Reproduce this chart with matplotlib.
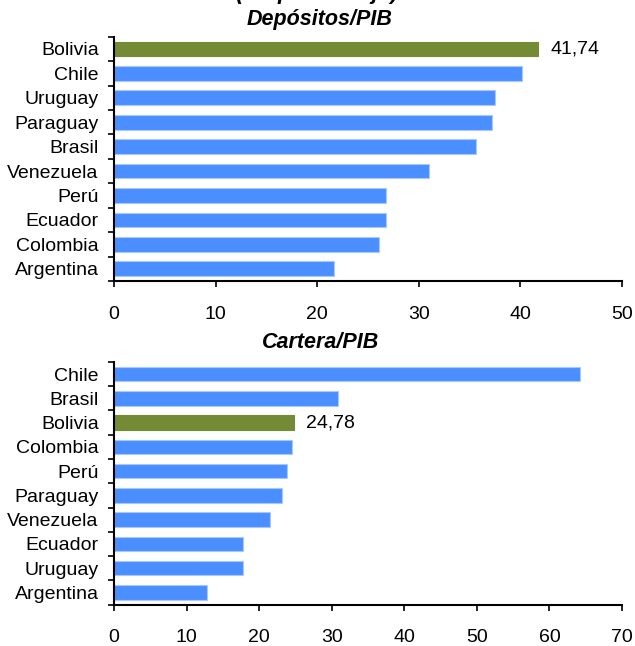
import matplotlib
matplotlib.use("Agg")
import matplotlib.pyplot as plt
import numpy as np

plt.rcParams['font.family'] = ['Liberation Sans', 'DejaVu Sans']

dep_countries = ["Bolivia", "Chile", "Uruguay", "Paraguay", "Brasil", "Venezuela",
                 "Perú", "Ecuador", "Colombia", "Argentina"]
dep_values = [41.74, 40.2, 37.5, 37.2, 35.6, 31.0, 26.8, 26.8, 26.1, 21.7]

car_countries = ["Chile", "Brasil", "Bolivia", "Colombia", "Perú", "Paraguay",
                 "Venezuela", "Ecuador", "Uruguay", "Argentina"]
car_values = [64.2, 30.9, 24.78, 24.5, 23.9, 23.1, 21.5, 17.8, 17.8, 12.8]

dep_ticks = [0, 10, 20, 30, 40, 50]
car_ticks = [0, 10, 20, 30, 40, 50, 60, 70]

highlight = "Bolivia"
BLUE = "#4A8EFF"
GREEN = "#758A35"

W, H = 635, 646
fig = plt.figure(figsize=(W / 100, H / 100), dpi=100)

def fx(px):
    return px / W

def fy(py):
    return 1 - py / H

def draw(ax, countries, values, ticks):
    y = np.arange(len(countries))
    colors = [GREEN if c == highlight else BLUE for c in countries]
    edges = ["#A9C8FF" if c != highlight else GREEN for c in countries]
    ax.barh(y, values, height=0.6, color=colors, edgecolor=edges, linewidth=0.8)
    ax.set_ylim(len(countries) - 0.5, -0.5)
    ax.set_xlim(ticks[0], ticks[-1])
    ax.set_xticks(ticks)
    ax.set_yticks(y)
    ax.set_yticklabels(countries, fontsize=14)
    ax.set_yticks(np.arange(-0.5, len(countries), 1.0), minor=True)
    ax.tick_params(axis='y', which='major', length=0, pad=11)
    ax.tick_params(axis='y', which='minor', length=4, width=1.2, direction='out')
    ax.tick_params(axis='x', which='major', length=4, width=1.2, direction='out',
                   pad=14, labelsize=14)
    for s in ['top', 'right']:
        ax.spines[s].set_visible(False)
    for s in ['left', 'bottom']:
        ax.spines[s].set_linewidth(1.5)
    for i, (c, v) in enumerate(zip(countries, values)):
        if c == highlight:
            ax.annotate(f"{v:.2f}".replace('.', ','), xy=(v, i), xytext=(9, 0),
                        textcoords='offset points', va='center', ha='left', fontsize=14)

ax1 = fig.add_axes([fx(114), fy(281), fx(622 - 114), (281 - 36.7) / H])
draw(ax1, dep_countries, dep_values, dep_ticks)

ax2 = fig.add_axes([fx(114), fy(604.5), fx(622 - 114), (604.5 - 362) / H])
draw(ax2, car_countries, car_values, car_ticks)

title_kw = dict(ha='center', va='center', fontsize=15.5, fontweight='bold', style='italic')
fig.text(fx(320), fy(20), "Depósitos/PIB", **title_kw)
fig.text(fx(321), fy(343), "Cartera/PIB", **title_kw)

fig.text(fx(317), 1 + 1 / H, "(En porcentaje)", ha='center', va='baseline',
         fontsize=16, fontweight='bold', style='italic')

fig.savefig("out.png", dpi=100)
